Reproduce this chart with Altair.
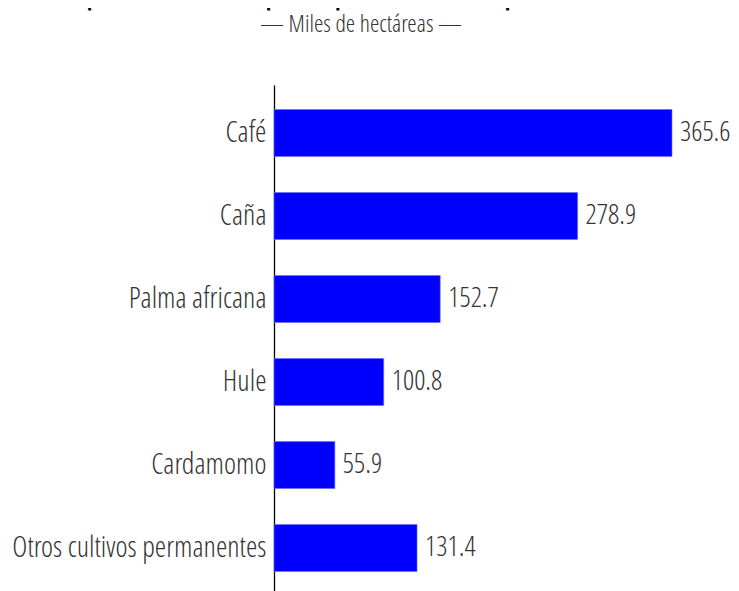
import altair as alt
import pandas as pd

cultivos = ["Café", "Caña", "Palma africana", "Hule", "Cardamomo", "Otros cultivos permanentes"]
valores = [365.6, 278.9, 152.7, 100.8, 55.9, 131.4]
etiquetas = ["365.6", "278.9", "152.7", "100.8", "55.9", "131.4"]

df = pd.DataFrame({"cultivo": cultivos, "valor": valores, "etiqueta": etiquetas})

FONT = "Open Sans Condensed Light, Open Sans Condensed, Liberation Sans Narrow, DejaVu Sans Condensed, sans-serif"

y = alt.Y("cultivo:N", sort=cultivos, title=None,
          scale=alt.Scale(paddingInner=0.434, paddingOuter=0.295),
          axis=alt.Axis(domain=True, domainColor="#000", domainWidth=1.3, ticks=False,
                        labelFont=FONT, labelFontSize=29, labelColor="#333",
                        labelPadding=8, labelLimit=400))
x = alt.X("valor:Q", title=None, axis=None,
          scale=alt.Scale(domain=[0, 365.6], nice=False, zero=True))

bars = alt.Chart(df).mark_bar(color="#0000FF", stroke="#6b6bff", strokeWidth=0.6).encode(x=x, y=y)
text = alt.Chart(df).mark_text(align="left", baseline="middle", dx=8, font=FONT,
                               fontSize=28, color="#333").encode(x=x, y=y, text="etiqueta:N")

chart = (bars + text).properties(
    width=398, height=511,
    title=alt.TitleParams(
        text="Superficie de los principales cultivos permanentes",
        subtitle="— Miles de hectáreas —",
        font=FONT, fontSize=38, fontWeight="bold", color="#000",
        subtitleFont=FONT, subtitleFontSize=24, subtitleColor="#333",
        subtitlePadding=4, anchor="middle", offset=48, frame="group", dx=-112,
    ),
    autosize=alt.AutoSizeParams(type="none"),
    padding={"left": 266, "top": 77, "right": 59, "bottom": 0},
).configure_view(stroke=None)

chart.save("out.html", embed_options={"renderer": "svg", "actions": False})
